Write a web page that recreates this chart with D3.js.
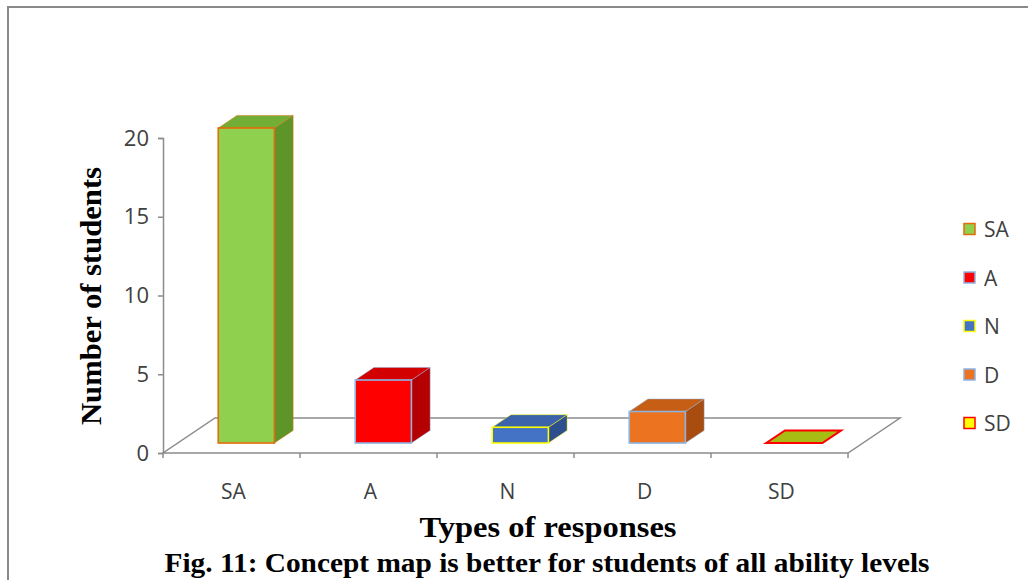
<!DOCTYPE html>
<html>
<head>
<meta charset="utf-8">
<script src="https://cdn.jsdelivr.net/npm/d3@7"></script>
<style>
  html, body { margin: 0; padding: 0; background: #fff; }
  svg { display: block; }
</style>
</head>
<body>
<svg id="chart" width="1028" height="580"></svg>
<script>
// Responses to "Concept map is better for students of all ability levels"
const categories = ["SA", "A", "N", "D", "SD"];
const values = [20, 4, 1, 2, 0];
const yTicks = [0, 5, 10, 15, 20];

// Per-series styling (front / side / top faces, outline, legend swatch)
const frontColors = ["#8fd04e", "#ff0000", "#4472c4", "#ec7420", "#c8d400"];
const sideColors  = ["#5e9528", "#b40000", "#2e4f8e", "#a84c10", "#8a9400"];
const topColors   = ["#72ae36", "#d20000", "#3a63ab", "#c65e16", "#a8bd14"];
const edgeColors  = ["#e46c0a", "#8db3e2", "#ffff00", "#8db3e2", "#ff0000"];
const swatchFill  = ["#8fd04e", "#ff0000", "#4472c4", "#ec7420", "#ffff00"];

const svg = d3.select("#chart");

// Chart frame
svg.append("line").attr("x1", 7).attr("x2", 1028).attr("y1", 7).attr("y2", 7)
  .attr("stroke", "#8a8a8a").attr("stroke-width", 2);
svg.append("line").attr("x1", 8).attr("x2", 8).attr("y1", 7).attr("y2", 580)
  .attr("stroke", "#8a8a8a").attr("stroke-width", 2);

// Plot geometry (front plane) and the receding depth vector of the floor
const plotLeft = 163, plotRight = 848, plotBase = 453, plotTop = 138;
const depth = { x: 52, y: -35 };
const t0 = 0.285, t1 = 0.645;           // bar slab position within the floor depth

const x = d3.scaleBand().domain(categories).range([plotLeft, plotRight]);
const y = d3.scaleLinear().domain([0, 20]).range([plotBase, plotTop]);

// Floor
const floorPts = [
  [plotLeft, plotBase], [plotRight, plotBase],
  [plotRight + depth.x, plotBase + depth.y], [plotLeft + depth.x, plotBase + depth.y]
];
svg.append("polygon")
  .attr("points", floorPts.map(p => p.join(",")).join(" "))
  .attr("fill", "#ffffff").attr("stroke", "#8c8c8c").attr("stroke-width", 1.5);

// Y axis
const yAxis = d3.axisLeft(y).tickValues(yTicks).tickSize(5).tickPadding(9);
const gy = svg.append("g").attr("transform", `translate(${plotLeft},0)`).call(yAxis);
gy.select(".domain").attr("stroke", "#8c8c8c").attr("stroke-width", 1.5);
gy.selectAll(".tick line").attr("stroke", "#8c8c8c").attr("stroke-width", 1.5);
gy.selectAll(".tick text")
  .attr("font-family", "'Open Sans', sans-serif").attr("font-size", 22)
  .attr("fill", "#404040");

// X axis: ticks on category boundaries, labels at band centres
const gx = svg.append("g");
const bounds = categories.map(c => x(c)).concat([plotRight]);
gx.selectAll("line").data(bounds).join("line")
  .attr("x1", d => d).attr("x2", d => d).attr("y1", plotBase).attr("y2", plotBase + 5)
  .attr("stroke", "#8c8c8c").attr("stroke-width", 1.5);
gx.selectAll("text").data(categories).join("text")
  .attr("x", d => x(d) + x.bandwidth() / 2 + 2)
  .attr("y", 499)
  .attr("text-anchor", "middle")
  .attr("font-family", "'Open Sans', sans-serif").attr("font-size", 21)
  .attr("fill", "#404040")
  .text(d => d);

// 3D columns
const barW = x.bandwidth() * 0.41;
const dd = { x: (t1 - t0) * depth.x, y: (t1 - t0) * depth.y };
const bars = svg.append("g");
const poly = pts => pts.map(p => p.join(",")).join(" ");
categories.forEach((c, i) => {
  const v = values[i];
  const x0 = x(c) + (x.bandwidth() - barW) / 2 + t0 * depth.x;
  const x1 = x0 + barW;
  const yb = y(0) + t0 * depth.y;
  const yt = y(v) + t0 * depth.y;
  const g = bars.append("g");
  if (v > 0) {
    g.append("polygon")
      .attr("points", poly([[x1, yt], [x1 + dd.x, yt + dd.y], [x1 + dd.x, yb + dd.y], [x1, yb]]))
      .attr("fill", sideColors[i]).attr("stroke", edgeColors[i]).attr("stroke-width", 0.8)
      .attr("stroke-opacity", 0.6);
  }
  g.append("polygon")
    .attr("points", poly([[x0, yt], [x1, yt], [x1 + dd.x, yt + dd.y], [x0 + dd.x, yt + dd.y]]))
    .attr("fill", topColors[i]).attr("stroke", edgeColors[i])
    .attr("stroke-width", v > 0 ? 0.8 : 2)
    .attr("stroke-opacity", v > 0 ? 0.6 : 1);
  if (v > 0) {
    g.append("rect")
      .attr("x", x0).attr("y", yt).attr("width", barW).attr("height", yb - yt)
      .attr("fill", frontColors[i]).attr("stroke", edgeColors[i]).attr("stroke-width", 1.6);
  }
});

// Legend
const legend = svg.append("g");
const legendY = d3.scalePoint().domain(categories).range([229, 423]);
categories.forEach((c, i) => {
  legend.append("rect")
    .attr("x", 964).attr("y", legendY(c) - 5.5).attr("width", 11).attr("height", 11)
    .attr("fill", swatchFill[i]).attr("stroke", edgeColors[i]).attr("stroke-width", 1.5);
  legend.append("text")
    .attr("x", 984).attr("y", legendY(c) + 8)
    .attr("font-family", "'Open Sans', sans-serif").attr("font-size", 21)
    .attr("fill", "#404040")
    .text(c);
});

// Titles
svg.append("text")
  .attr("transform", "translate(101,296) rotate(-90)")
  .attr("text-anchor", "middle")
  .attr("font-family", "'Liberation Serif', 'Times New Roman', serif")
  .attr("font-weight", "bold").attr("font-size", 30).attr("fill", "#000")
  .attr("textLength", 258).attr("lengthAdjust", "spacingAndGlyphs")
  .text("Number of students");

svg.append("text")
  .attr("x", 548).attr("y", 537)
  .attr("text-anchor", "middle")
  .attr("font-family", "'Liberation Serif', 'Times New Roman', serif")
  .attr("font-weight", "bold").attr("font-size", 30).attr("fill", "#000")
  .attr("textLength", 257).attr("lengthAdjust", "spacingAndGlyphs")
  .text("Types of responses");

svg.append("text")
  .attr("x", 547).attr("y", 572)
  .attr("text-anchor", "middle")
  .attr("font-family", "'Liberation Serif', 'Times New Roman', serif")
  .attr("font-weight", "bold").attr("font-size", 28).attr("fill", "#000")
  .attr("textLength", 765).attr("lengthAdjust", "spacingAndGlyphs")
  .text("Fig. 11: Concept map is better for students of all ability levels");
</script>
</body>
</html>
